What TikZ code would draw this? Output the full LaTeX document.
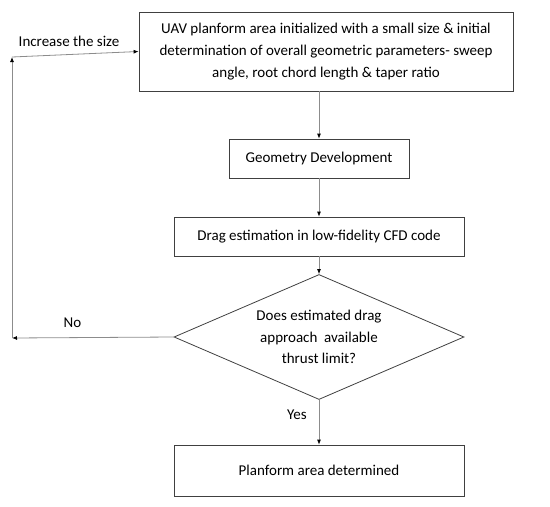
\documentclass[tikz,border=0pt]{standalone}
\usepackage{fontspec}
\setmainfont{Carlito}
\usetikzlibrary{positioning,arrows.meta,shapes.geometric}

\begin{document}
\begin{tikzpicture}[x=1pt, y=-1pt, font=\fontsize{15}{21.7}\selectfont,
    box/.style={draw=black!75, line width=0.8pt, align=center, inner sep=0pt},
    decision/.style={draw=black!75, line width=0.8pt, diamond, aspect=2.32,
      inner sep=0pt, align=center, minimum width=290, minimum height=125},
    conn/.style={draw=black!45, line width=0.8pt, -{Latex[length=5pt,width=4pt,color=black]}}]
  \useasboundingbox (0,0) rectangle (550,507);
  % boxes
  \node[box, minimum width=374, minimum height=79] (init) at (326, 51.5)
    {UAV planform area initialized with a small size \& initial\\
     determination of overall geometric parameters- sweep\\
     angle, root chord length \& taper ratio};
  \node[box, minimum width=180, minimum height=39] (geom) at (319, 158.5) {Geometry Development};
  \node[box, minimum width=290, minimum height=39] (drag) at (319, 236.5) {Drag estimation in low-fidelity CFD code};
  \node[decision] (thrust) at (319, 337)
    {Does estimated drag\\approach~ available\\thrust limit?};
  \node[box, minimum width=290, minimum height=51] (done) at (319, 470.5) {Planform area determined};
  % loop corners
  \coordinate (noend) at (12, 338);
  \coordinate (upend) at (12, 57);
  % connectors
  \draw[conn] (init.south -| geom.north) -- (geom.north);
  \draw[conn] (geom) -- (drag);
  \draw[conn] (drag) -- (thrust.north);
  \draw[conn] (thrust.south) -- (done.north);
  \draw[conn] (thrust.west) -- (noend);
  \draw[conn] (noend) -- (upend);
  \draw[conn] (upend) -- (init.west);
  % labels
  \node (incr) at (69, 41) {Increase the size};
  \node (no) at (72.5, 323) {No};
  \node (yes) at (297, 415) {Yes};
\end{tikzpicture}
\end{document}
